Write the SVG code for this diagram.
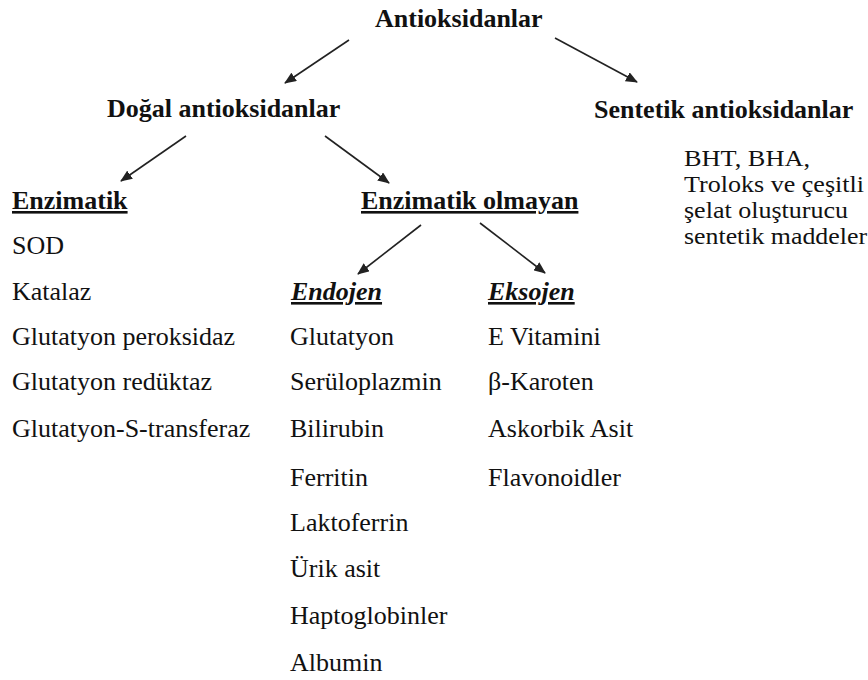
<svg xmlns="http://www.w3.org/2000/svg" width="868" height="680" viewBox="0 0 868 680">
<defs>
<style>
text{font-family:"Liberation Serif","Times New Roman",serif;font-size:26px;fill:#111}
.b{font-weight:bold}
.u{text-decoration:underline}
.bi{font-weight:bold;font-style:italic;text-decoration:underline}
.s{font-size:23px}
.c line{stroke:#222;stroke-width:1.6;marker-end:url(#ah)}
</style>
<marker id="ah" viewBox="0 0 12 10" refX="11" refY="5" markerWidth="12" markerHeight="10" markerUnits="userSpaceOnUse" orient="auto">
<path d="M0,0 L12,5 L0,10 z" fill="#222"/>
</marker>
</defs>
<rect width="868" height="680" fill="#fff"/>
<g id="connectors" class="c">
<line x1="349" y1="40" x2="285" y2="83"/>
<line x1="555" y1="38" x2="637" y2="82"/>
<line x1="186" y1="136" x2="121" y2="181"/>
<line x1="325" y1="136" x2="389" y2="183"/>
<line x1="421" y1="225" x2="358" y2="274"/>
<line x1="480" y1="223" x2="545" y2="273"/>
</g>
<g id="antioksidanlar"><text class="b" x="375" y="27">Antioksidanlar</text></g>
<g id="dogal"><text class="b" x="107" y="117">Doğal antioksidanlar</text></g>
<g id="sentetik">
<text class="b" x="594" y="118">Sentetik antioksidanlar</text>
<text class="s" x="684" y="166" textLength="126" lengthAdjust="spacingAndGlyphs">BHT, BHA,</text>
<text class="s" x="684" y="192" textLength="180" lengthAdjust="spacingAndGlyphs">Troloks ve çeşitli</text>
<text class="s" x="684" y="218" textLength="164" lengthAdjust="spacingAndGlyphs">şelat oluşturucu</text>
<text class="s" x="684" y="244" textLength="183" lengthAdjust="spacingAndGlyphs">sentetik maddeler</text>
</g>
<g id="enzimatik">
<text class="b u" x="12" y="209">Enzimatik</text>
<text x="12" y="254">SOD</text>
<text x="12" y="299.5">Katalaz</text>
<text x="12" y="345">Glutatyon peroksidaz</text>
<text x="12" y="390">Glutatyon redüktaz</text>
<text x="12" y="437">Glutatyon-S-transferaz</text>
</g>
<g id="enzimatik-olmayan"><text class="b u" x="361" y="209">Enzimatik olmayan</text></g>
<g id="endojen">
<text class="bi" x="291" y="300">Endojen</text>
<text x="290" y="345">Glutatyon</text>
<text x="290" y="390">Serüloplazmin</text>
<text x="290" y="437">Bilirubin</text>
<text x="290" y="486">Ferritin</text>
<text x="290" y="531">Laktoferrin</text>
<text x="290" y="577">Ürik asit</text>
<text x="290" y="624">Haptoglobinler</text>
<text x="290" y="671">Albumin</text>
</g>
<g id="eksojen">
<text class="bi" x="488" y="300">Eksojen</text>
<text x="488" y="345">E Vitamini</text>
<text x="488" y="390">β-Karoten</text>
<text x="488" y="437">Askorbik Asit</text>
<text x="488" y="486">Flavonoidler</text>
</g>
</svg>
